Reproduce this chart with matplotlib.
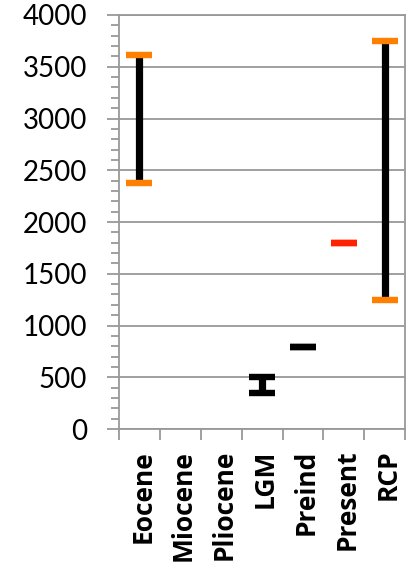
import numpy as np
import matplotlib
matplotlib.use("Agg")
import matplotlib.pyplot as plt

# values
categories = ["Eocene", "Miocene", "Pliocene", "LGM", "Preind", "Present", "RCP"]
low = [2380, np.nan, np.nan, 350, 790, 1800, 1250]
high = [3610, np.nan, np.nan, 500, 790, 1800, 3750]
cap_colors = ["#FF7F00", None, None, "black", "black", "#FF2200", "#FF7F00"]

plt.rcParams["font.family"] = ["Lato", "DejaVu Sans"]

fig = plt.figure(figsize=(4.16, 5.66), dpi=100)
ax = fig.add_axes([0.286, 0.242, 0.688, 0.7315])

grid_col = "#999999"
x = np.arange(len(categories))

for i in range(len(categories)):
    lo, hi, c = low[i], high[i], cap_colors[i]
    if np.isnan(lo):
        continue
    if hi > lo:
        ax.plot([x[i], x[i]], [lo, hi], color="black", lw=5.2,
                solid_capstyle="butt", zorder=3)
    ax.plot([x[i], x[i]], [lo, hi], ls="none", marker="_", ms=18.5,
            mew=4.6, color=c, zorder=4)

ax.set_xlim(-0.5, len(categories) - 0.5)
ax.set_ylim(0, 4000)
ax.set_yticks(np.arange(0, 4001, 500))
ax.set_yticks(np.arange(0, 4001, 100), minor=True)
ax.yaxis.grid(True, which="major", color=grid_col, lw=1.3)
ax.set_axisbelow(True)

ax.set_xticks(x + 0.08)
ax.set_xticklabels(categories, rotation=90, fontweight="bold", fontsize=19,
                   family=["Open Sans", "DejaVu Sans"])
ax.set_xticks(np.arange(-0.5, len(categories)), minor=True)
ax.tick_params(axis="x", which="major", length=0, pad=15)
ax.tick_params(axis="x", which="minor", length=8, width=1.3, color=grid_col, direction="out")
ax.tick_params(axis="y", which="major", length=9, width=1.3, color=grid_col,
               labelsize=20, pad=14)
ax.tick_params(axis="y", which="minor", length=6, width=1.3, color=grid_col)

for s in ax.spines.values():
    s.set_color(grid_col)
    s.set_linewidth(1.3)

fig.savefig("out.png", dpi=100)
